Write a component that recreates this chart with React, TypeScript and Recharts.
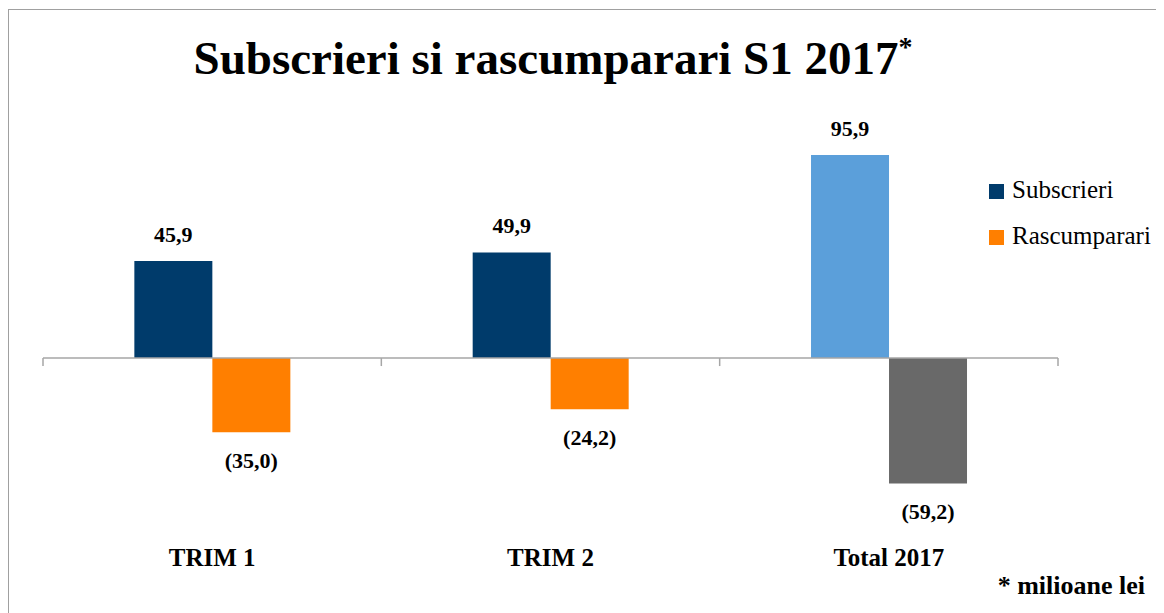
import React from "react";
import {
  BarChart,
  Bar,
  XAxis,
  YAxis,
  Cell,
  LabelList,
  Legend,
  ReferenceLine,
} from "recharts";

const categories = ["TRIM 1", "TRIM 2", "Total 2017"];
const seriesNames = ["Subscrieri", "Rascumparari"];
const subscrieri = [45.9, 49.9, 95.9];
const rascumparari = [-35.0, -24.2, -59.2];
const subscrieriColors = ["#003B6B", "#003B6B", "#5B9FDA"];
const rascumparariColors = ["#FF7F00", "#FF7F00", "#696969"];

const data = categories.map((name, i) => ({
  name,
  subscrieri: subscrieri[i],
  rascumparari: rascumparari[i],
}));

const FONT = "'Liberation Serif', 'Times New Roman', serif";
const AXIS_GRAY = "#A6A6A6";

// 45.9 -> "45,9", -35 -> "(35,0)"
const fmt = (v: number) => {
  const s = Math.abs(v).toFixed(1).replace(".", ",");
  return v < 0 ? `(${s})` : s;
};

const BarValueLabel = (props: any) => {
  const { x, y, width, height, value } = props;
  const top = Math.min(y, y + height);
  const bottom = Math.max(y, y + height);
  const cx = x + width / 2;
  const ty = value >= 0 ? top - 19 : bottom + 36;
  return (
    <text
      x={cx}
      y={ty}
      textAnchor="middle"
      fontFamily={FONT}
      fontWeight="bold"
      fontSize={22}
      fill="#000"
    >
      {fmt(value)}
    </text>
  );
};

// zero line with the category separator ticks
const ZeroLine = (props: any) => {
  const { x1, y1, x2 } = props;
  const step = (x2 - x1) / categories.length;
  const ticks = Array.from({ length: categories.length + 1 }, (_, i) => x1 + i * step);
  return (
    <g>
      <line x1={x1} y1={y1} x2={x2} y2={y1} stroke={AXIS_GRAY} strokeWidth={1.5} />
      {ticks.map((tx) => (
        <line key={tx} x1={tx} y1={y1} x2={tx} y2={y1 + 8} stroke={AXIS_GRAY} strokeWidth={1.5} />
      ))}
    </g>
  );
};

const LegendContent = (props: any) => {
  const items = [...(props.payload || [])].sort(
    (a: any, b: any) => seriesNames.indexOf(a.value) - seriesNames.indexOf(b.value)
  );
  return (
    <div style={{ fontFamily: FONT }}>
      {items.map((p: any) => (
        <div key={p.value} style={{ position: "relative", height: 46, width: 180 }}>
          <span
            style={{
              position: "absolute",
              left: 0,
              top: 6,
              width: 15,
              height: 15,
              background: p.color,
            }}
          />
          <span
            style={{
              position: "absolute",
              left: 23,
              top: -1,
              fontSize: 25,
              lineHeight: 1,
              color: "#000",
              whiteSpace: "nowrap",
            }}
          >
            {p.value}
          </span>
        </div>
      ))}
    </div>
  );
};

export default function App() {
  return (
    <div style={{ position: "relative", width: 1156, height: 605, fontFamily: FONT }}>
      <div
        style={{
          position: "absolute",
          left: 0,
          top: 1,
          right: 0,
          bottom: 0,
          borderLeft: "1px solid #A0A0A0",
          borderTop: "1px solid #A0A0A0",
        }}
      />
      <div
        style={{
          position: "absolute",
          left: 0,
          top: 27,
          width: 1090,
          textAlign: "center",
          fontSize: 47,
          fontWeight: "bold",
          lineHeight: 1,
          color: "#000",
        }}
      >
        Subscrieri si rascumparari S1 2017
        <span style={{ fontSize: 28, verticalAlign: "top", position: "relative", top: -2 }}>*</span>
      </div>

      <div style={{ position: "absolute", left: 0, top: 0 }}>
        <BarChart
          width={1156}
          height={600}
          data={data}
          margin={{ top: 96, right: 106, left: 35, bottom: 30 }}
          barCategoryGap="27%"
          barGap={0}
        >
          <XAxis
            dataKey="name"
            axisLine={false}
            tickLine={false}
            height={40}
            tickMargin={4}
            tick={{ fontSize: 25, fontWeight: "bold", fill: "#000", fontFamily: FONT }}
          />
          <YAxis hide domain={[-85, 120]} allowDataOverflow />
          <ReferenceLine y={0} shape={ZeroLine} />
          <Legend
            content={LegendContent}
            layout="vertical"
            align="center"
            verticalAlign="middle"
            wrapperStyle={{ position: "absolute", left: 981, top: 170, width: 180 }}
          />
          <Bar dataKey="subscrieri" name="Subscrieri" fill="#003B6B" isAnimationActive={false}>
            {data.map((d, i) => (
              <Cell key={d.name} fill={subscrieriColors[i]} />
            ))}
            <LabelList dataKey="subscrieri" content={BarValueLabel} />
          </Bar>
          <Bar dataKey="rascumparari" name="Rascumparari" fill="#FF7F00" isAnimationActive={false}>
            {data.map((d, i) => (
              <Cell key={d.name} fill={rascumparariColors[i]} />
            ))}
            <LabelList dataKey="rascumparari" content={BarValueLabel} />
          </Bar>
        </BarChart>
      </div>

      <div
        style={{
          position: "absolute",
          right: 19,
          top: 565,
          fontSize: 26,
          fontWeight: "bold",
          lineHeight: 1,
          color: "#000",
          whiteSpace: "nowrap",
        }}
      >
        * milioane lei
      </div>
    </div>
  );
}
